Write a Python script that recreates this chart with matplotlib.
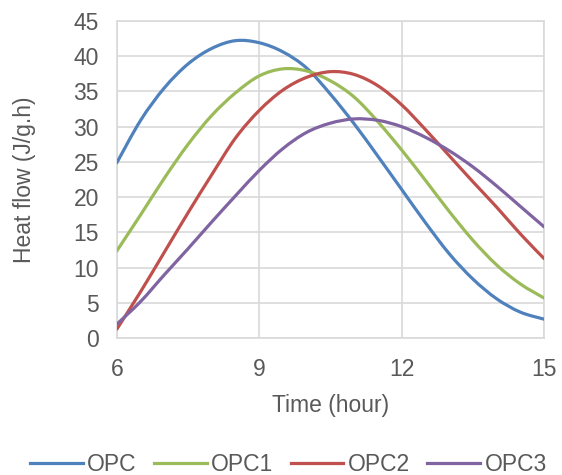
import matplotlib
matplotlib.use("Agg")
import matplotlib.pyplot as plt
from matplotlib.path import Path
from matplotlib.patches import PathPatch
from matplotlib.lines import Line2D

plt.rcParams['font.family'] = ['Liberation Sans', 'DejaVu Sans']

time_h = [6, 6.5, 7, 7.5, 8, 8.5, 9, 9.5, 10, 10.5, 11, 11.5, 12, 12.5, 13, 13.5, 14, 14.5, 15]
opc  = [24.9, 30.9, 35.5, 38.9, 41.1, 42.2, 41.9, 40.6, 38.3, 34.6, 30.4, 25.8, 21.1, 16.4, 12.0, 8.4, 5.6, 3.7, 2.7]
opc1 = [12.4, 17.5, 22.7, 27.5, 31.6, 34.8, 37.2, 38.2, 37.9, 36.5, 34.2, 30.7, 26.7, 22.4, 18.0, 13.9, 10.4, 7.7, 5.7]
opc2 = [1.3, 6.6, 12.2, 17.8, 23.2, 28.4, 32.3, 35.2, 37.0, 37.8, 37.4, 35.8, 33.1, 29.6, 25.9, 22.2, 18.6, 14.8, 11.3]
opc3 = [2.0, 5.2, 9.0, 12.7, 16.5, 20.2, 23.8, 26.9, 29.2, 30.5, 31.1, 30.9, 30.0, 28.5, 26.6, 24.3, 21.6, 18.7, 15.8]

series_names = ["OPC", "OPC1", "OPC2", "OPC3"]
series_vals = [opc, opc1, opc2, opc3]
colors = ["#4F81BD", "#9BBB59", "#C0504D", "#8064A2"]

x_ticks = [6, 9, 12, 15]
y_ticks = [0, 5, 10, 15, 20, 25, 30, 35, 40, 45]

txt = "#595959"
grid_c = "#D9D9D9"
fs = 16.5
lw = 2.3


def smooth_path(xs, ys):
    """Smoothed-line rendering (Catmull-Rom as cubic Bezier) through the read points."""
    pts = list(zip(xs, ys))
    n = len(pts)
    verts = [pts[0]]
    codes = [Path.MOVETO]
    for i in range(n - 1):
        p0 = pts[i - 1] if i > 0 else pts[i]
        p1 = pts[i]
        p2 = pts[i + 1]
        p3 = pts[i + 2] if i + 2 < n else pts[i + 1]
        c1 = (p1[0] + (p2[0] - p0[0]) / 6.0, p1[1] + (p2[1] - p0[1]) / 6.0)
        c2 = (p2[0] - (p3[0] - p1[0]) / 6.0, p2[1] - (p3[1] - p1[1]) / 6.0)
        verts += [c1, c2, p2]
        codes += [Path.CURVE4] * 3
    return Path(verts, codes)


fig = plt.figure(figsize=(5.62, 4.75), dpi=100)
ax = fig.add_axes([0.208, 0.288, 0.760, 0.668])

handles = []
for name, vals, c in zip(series_names, series_vals, colors):
    patch = PathPatch(smooth_path(time_h, vals), facecolor='none', edgecolor=c,
                      lw=lw, capstyle='round', joinstyle='round', zorder=3,
                      transform=ax.transData)
    ax.add_patch(patch)
    handles.append(Line2D([], [], color=c, lw=lw, label=name))

ax.set_xlim(6, 15)
ax.set_ylim(0, 45)
ax.set_xticks(x_ticks)
ax.set_yticks(y_ticks)
ax.grid(True, color=grid_c, lw=1.2, zorder=0)
ax.set_axisbelow(True)
for s in ax.spines.values():
    s.set_color(grid_c)
    s.set_linewidth(1.2)
ax.tick_params(length=0, labelsize=fs, labelcolor=txt)
ax.tick_params(axis='y', pad=13)
ax.tick_params(axis='x', pad=14.5)

ax.set_xlabel("Time (hour)", fontsize=fs, color=txt)
ax.set_ylabel("Heat flow (J/g.h)", fontsize=fs, color=txt)
ax.xaxis.set_label_coords(0.5, -0.177)
ax.yaxis.set_label_coords(-0.19, 0.5)

leg = fig.legend(handles=handles, loc='center', bbox_to_anchor=(0.513, 0.023), ncol=4,
                 frameon=False, fontsize=fs, handlelength=2.3, handletextpad=0.2,
                 columnspacing=0.75, labelcolor=txt, borderpad=0.1)

fig.savefig("out.png", dpi=100)
